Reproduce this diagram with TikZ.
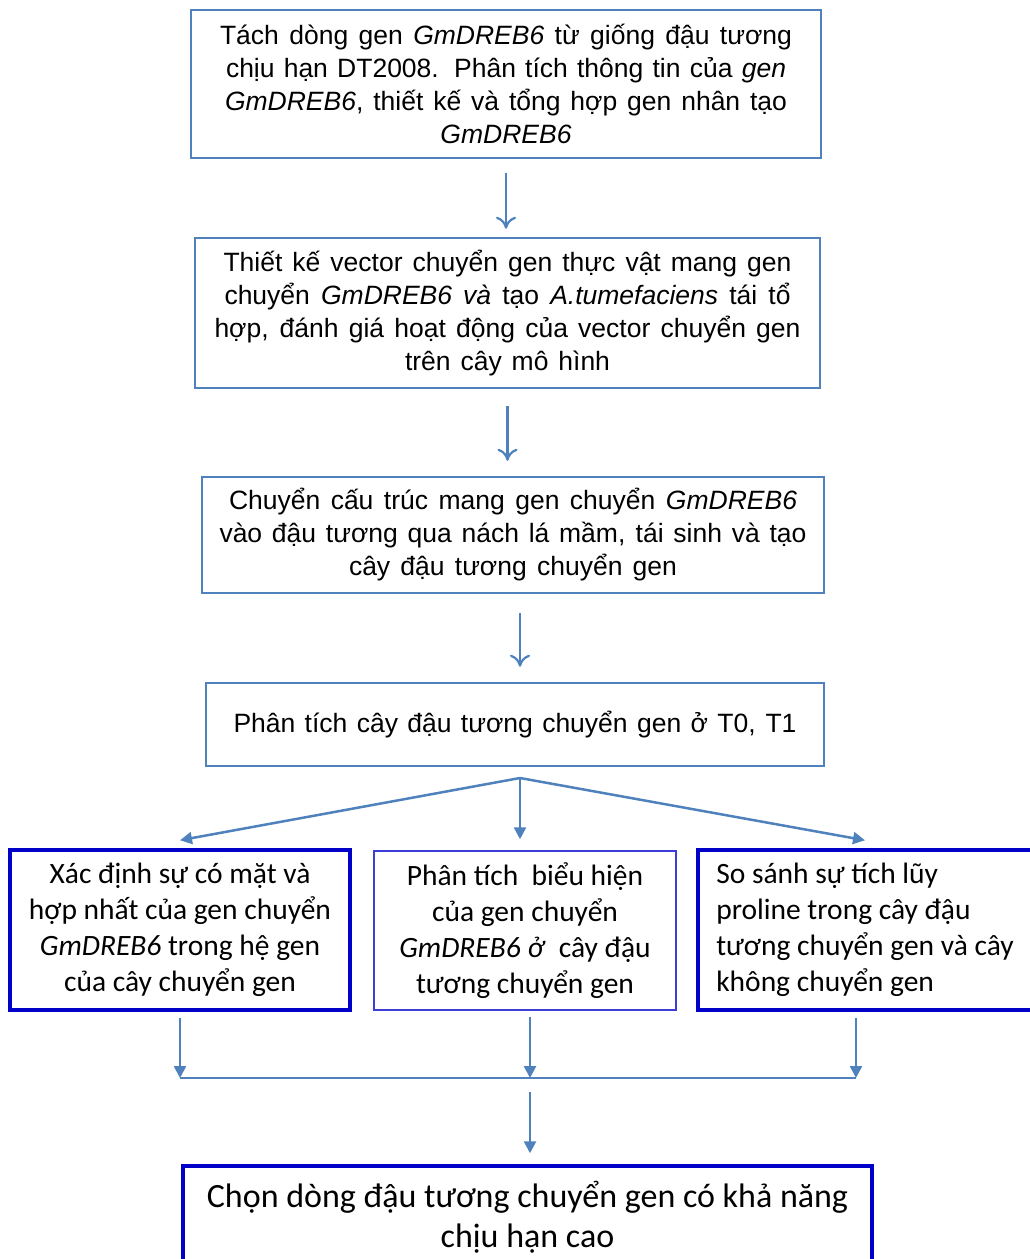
\documentclass[tikz,border=0pt]{standalone}
\usepackage{fontspec}
\setmainfont{Liberation Sans}
\newfontfamily\calibrifont{Carlito}
\usepackage{xcolor}
\usetikzlibrary{arrows.meta,positioning,calc}
\definecolor{boxblue}{RGB}{79,129,189}
\definecolor{deepblue}{RGB}{0,0,200}
\definecolor{midblue}{RGB}{60,60,215}
\newcommand{\jline}[2]{\makebox[#1pt][s]{#2}}

\begin{document}
\begin{tikzpicture}[x=1pt,y=-1pt,
    stepbox/.style={draw=boxblue, line width=2.5pt, inner sep=0pt, align=center,
        font=\fontsize{26.5}{33}\selectfont},
    resbox/.style={draw=deepblue, line width=3.5pt, inner sep=0pt, align=center,
        font=\calibrifont\fontsize{29.5}{36}\selectfont},
    flow/.style={draw=boxblue, line width=2.2pt, -{To[length=12pt,width=20pt]}},
    merge/.style={draw=boxblue, line width=2.5pt, -{Triangle[length=12pt,width=12pt]}}]
    \useasboundingbox (0,0) rectangle (1030,1259);

    % Main steps
    \node[stepbox, minimum width=630pt, minimum height=148pt] (tach) at (506,84)
        {\jline{572}{Tách dòng gen \textit{GmDREB6} từ giống đậu tương}\\
         \jline{560}{chịu hạn DT2008.  Phân tích thông tin của \textit{gen}}\\
         \jline{562}{\textit{GmDREB6},\ thiết kế và tổng hợp gen nhân tạo}\\
         \textit{GmDREB6}};
    \node[stepbox, minimum width=625pt, minimum height=150pt] (vector) at (507.5,313)
        {\jline{568}{Thiết kế vector chuyển gen thực vật mang gen}\\
         \jline{566}{chuyển \textit{GmDREB6 và} tạo \textit{A.tumefaciens} tái tổ}\\
         \jline{586}{hợp, đánh giá hoạt động của vector chuyển gen}\\
         \jline{205}{trên cây mô hình}};
    \node[stepbox, minimum width=622pt, minimum height=116pt] (chuyen) at (513,535)
        {\jline{568}{Chuyển cấu trúc mang gen chuyển \textit{GmDREB6}}\\
         \jline{587}{vào đậu tương qua nách lá mầm, tái sinh và tạo}\\
         \jline{328}{cây đậu tương chuyển gen}};
    \node[stepbox, minimum width=618pt, minimum height=83pt] (phantich) at (515,724.5)
        {\jline{563}{Phân tích cây đậu tương chuyển gen ở T0, T1}};

    % Analyses
    \node[resbox, minimum width=340pt, minimum height=160pt] (xacdinh) at (180,930)
        {Xác định sự có mặt và\\ hợp nhất của gen chuyển\\
         \textit{GmDREB6} trong hệ gen\\ của cây chuyển gen};
    \node[resbox, draw=midblue, line width=1.5pt, minimum width=302pt, minimum height=159pt] (bieuhien) at (525,930.5)
        {Phân tích\ \ biểu hiện\\ của gen chuyển\\
         \textit{GmDREB6 ở}\ \ cây đậu\\ tương chuyển gen};
    \node[resbox, align=left, minimum width=334pt, minimum height=160pt] (sosanh) at (865,930)
        {So sánh sự tích lũy\\ proline trong cây đậu\\
         tương chuyển gen và cây\\ không chuyển gen};

    % Result
    \node[resbox, font=\calibrifont\fontsize{34}{40}\selectfont,
        minimum width=689pt, minimum height=102pt] (chon) at (527.5,1217)
        {Chọn dòng đậu tương chuyển gen có khả năng\\ chịu hạn cao};

    \coordinate (split) at (520,778);
    \coordinate (jl) at (180,1078);
    \coordinate (jm) at (530,1078);
    \coordinate (jr) at (856,1078);

    % Arrows between steps
    \draw[flow, shorten <=14pt, shorten >=8pt] (tach.south) -- (tach.south |- vector.north);
    \draw[flow, shorten <=17pt, shorten >=15pt] (vector.south) -- (vector.south |- chuyen.north);
    \draw[flow, shorten <=19pt, shorten >=15pt] (chuyen.south -| split) -- (phantich.north -| split);

    % Branching
    \draw[merge] (split) -- ($(xacdinh.north)+(0,-8)$);
    \draw[merge] (split) -- ($(bieuhien.north -| split)+(0,-11)$);
    \draw[merge] (split) -- ($(sosanh.north)+(0,-8)$);

    % Joining
    \draw[merge, shorten <=6pt] (xacdinh.south) -- (jl);
    \draw[merge, shorten <=6pt] (bieuhien.south -| jm) -- (jm);
    \draw[merge, shorten <=6pt] (sosanh.south -| jr) -- (jr);
    \draw[boxblue, line width=2.5pt] (jl) -- (jr);
    \draw[merge, shorten <=14pt, shorten >=11pt] (jm) -- (chon.north -| jm);
\end{tikzpicture}
\end{document}
